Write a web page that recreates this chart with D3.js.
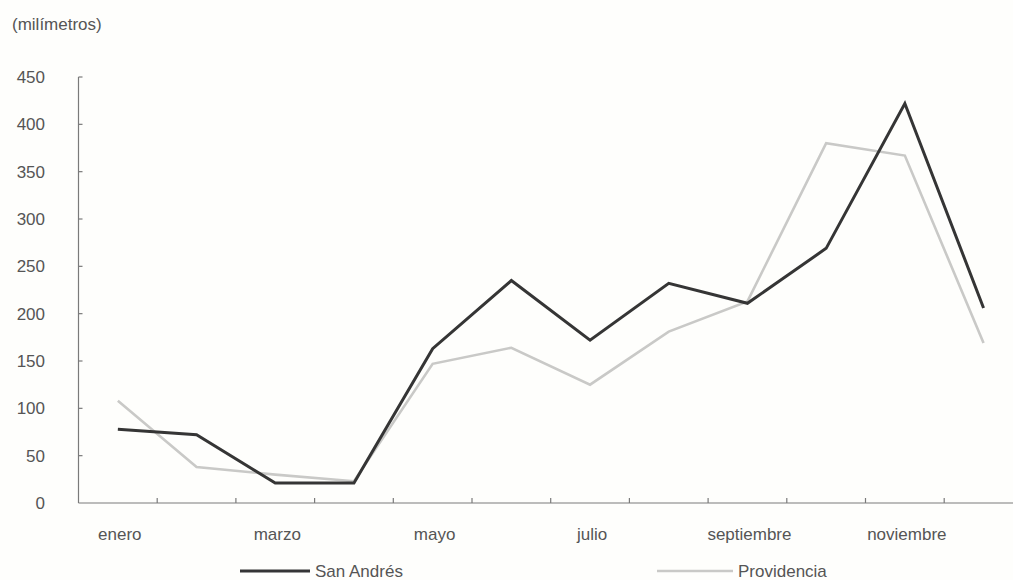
<!DOCTYPE html>
<html>
<head>
<meta charset="utf-8">
<script src="https://cdn.jsdelivr.net/npm/d3@7/dist/d3.min.js"></script>
<style>
  html, body { margin: 0; padding: 0; background: #fefefc; }
  svg { display: block; }
  text { font-family: "Liberation Sans", Arial, sans-serif; font-size: 17px; fill: #555; }
</style>
</head>
<body>
<svg id="chart" width="1013" height="580"></svg>
<script>
// Monthly rainfall (mm) for San Andrés and Providencia
const months = ["enero", "febrero", "marzo", "abril", "mayo", "junio",
                "julio", "agosto", "septiembre", "octubre", "noviembre", "diciembre"];
const sanAndres   = [78, 72, 21, 21, 163, 235, 172, 232, 211, 269, 422, 206];
const providencia = [108, 38, 30, 23, 147, 164, 125, 181, 213, 380, 367, 169];
const yTicks = [0, 50, 100, 150, 200, 250, 300, 350, 400, 450];
const labelledMonths = ["enero", "marzo", "mayo", "julio", "septiembre", "noviembre"];
const seriesNames = ["San Andrés", "Providencia"];

const svg = d3.select("#chart");
const left = 78.5, step = 78.7;
const x = d3.scaleBand().domain(months).range([left, left + step * months.length]);
const y = d3.scaleLinear().domain([0, 450]).range([503, 77]);

const axisColor = "#7a7a7a";

// Unit label
svg.append("text").attr("x", 12).attr("y", 30).text("(milímetros)");

// Y axis: line, inward ticks, labels
svg.append("line")
  .attr("x1", left).attr("x2", left).attr("y1", y(450)).attr("y2", y(0))
  .attr("stroke", axisColor).attr("stroke-width", 1.2);
svg.selectAll(".ytick").data(yTicks.filter(d => d > 0)).join("line")
  .attr("x1", left).attr("x2", left + 4)
  .attr("y1", d => y(d)).attr("y2", d => y(d))
  .attr("stroke", axisColor).attr("stroke-width", 1.2);
svg.selectAll(".ylab").data(yTicks).join("text")
  .attr("x", 45).attr("y", d => y(d)).attr("dy", "0.36em")
  .attr("text-anchor", "end").text(d => d);

// X axis: baseline, ticks at month boundaries, labels on alternate months
svg.append("line")
  .attr("x1", left).attr("x2", left + step * months.length)
  .attr("y1", y(0)).attr("y2", y(0))
  .attr("stroke", axisColor).attr("stroke-width", 1.2);
svg.selectAll(".xtick").data(months.slice(1)).join("line")
  .attr("x1", d => x(d)).attr("x2", d => x(d))
  .attr("y1", y(0)).attr("y2", y(0) - 5)
  .attr("stroke", axisColor).attr("stroke-width", 1.2);
svg.selectAll(".xlab").data(labelledMonths).join("text")
  .attr("x", d => x(d) + x.bandwidth() / 2 + 2).attr("y", 540)
  .attr("text-anchor", "middle").text(d => d);

// Series lines
const line = d3.line()
  .x((d, i) => x(months[i]) + x.bandwidth() / 2)
  .y(d => y(d));

svg.append("path").datum(providencia)
  .attr("d", line).attr("fill", "none")
  .attr("stroke", "#c9c9c7").attr("stroke-width", 2.6)
  .attr("stroke-linejoin", "miter");
svg.append("path").datum(sanAndres)
  .attr("d", line).attr("fill", "none")
  .attr("stroke", "#353535").attr("stroke-width", 3)
  .attr("stroke-linejoin", "miter");

// Legend
const legend = [
  { name: seriesNames[0], color: "#353535", width: 3, x0: 240, x1: 310 },
  { name: seriesNames[1], color: "#c9c9c7", width: 2.4, x0: 657, x1: 733 }
];
legend.forEach(l => {
  svg.append("line").attr("x1", l.x0).attr("x2", l.x1).attr("y1", 571).attr("y2", 571)
    .attr("stroke", l.color).attr("stroke-width", l.width);
  svg.append("text").attr("x", l.x1 + 5).attr("y", 571).attr("dy", "0.36em").text(l.name);
});
</script>
</body>
</html>
